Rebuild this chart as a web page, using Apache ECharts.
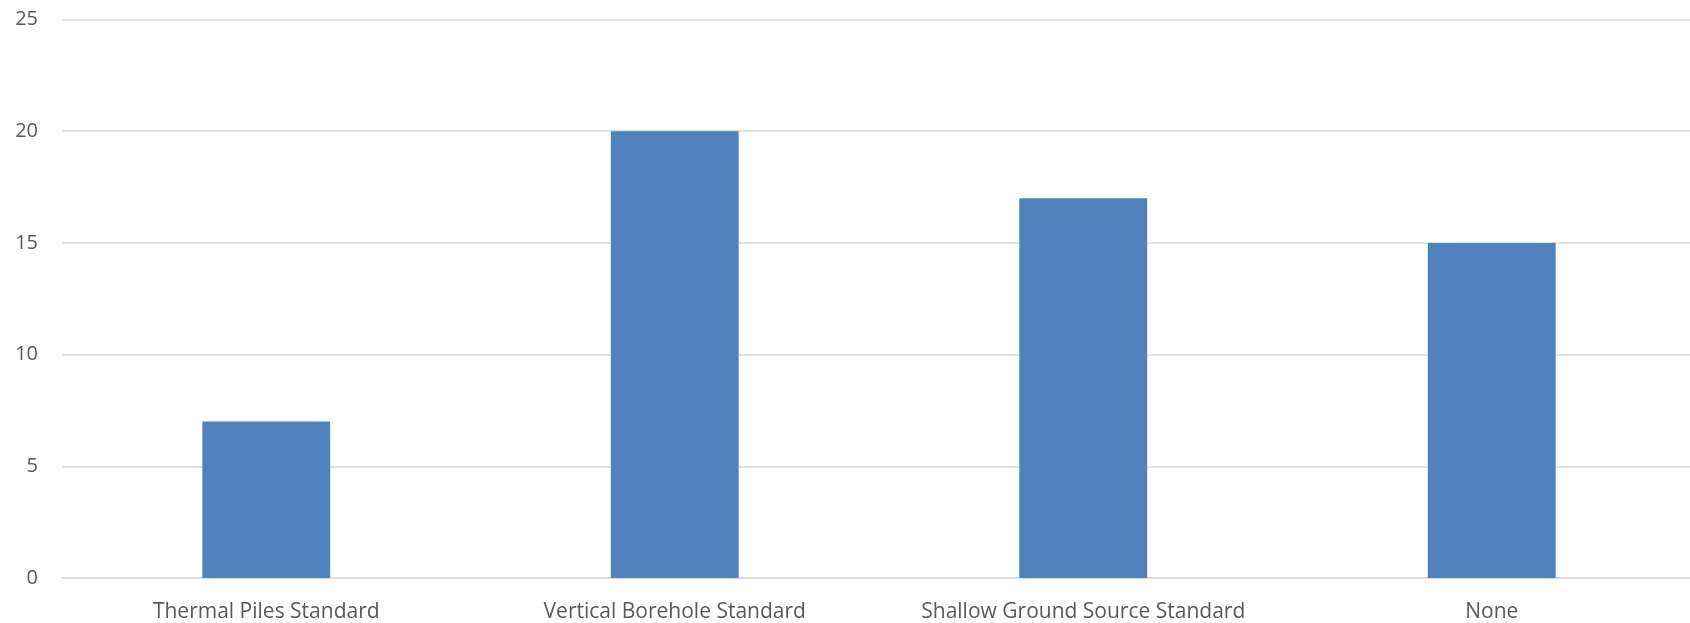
<!DOCTYPE html>
<html><head><meta charset="utf-8">
<script src="https://cdn.jsdelivr.net/npm/echarts@6/dist/echarts.min.js"></script>
<style>html,body{margin:0;padding:0;background:#fff;overflow:hidden;width:1690px;height:623px}#c{width:1700px;height:623px}</style>
</head><body><div id="c"></div>
<script>
const categories = ["Thermal Piles Standard", "Vertical Borehole Standard", "Shallow Ground Source Standard", "None"];
const values = [7, 20, 17, 15];
const yTicks = [0, 5, 10, 15, 20, 25];

const chart = echarts.init(document.getElementById('c'));
chart.setOption({
  animation: false,
  grid: {left: 62, right: 4, top: 19.5, bottom: 44, containLabel: false},
  xAxis: {
    type: 'category', data: categories,
    axisLine: {lineStyle: {color: '#d9d9d9', width: 1.5}},
    axisTick: {show: false},
    axisLabel: {color: '#595959', fontFamily: 'Open Sans', fontSize: 21, margin: 24, interval: 0}
  },
  yAxis: {
    type: 'value', min: yTicks[0], max: yTicks[yTicks.length-1], interval: 5,
    axisLine: {show: false}, axisTick: {show: false},
    splitLine: {lineStyle: {color: '#d9d9d9', width: 1.5}},
    axisLabel: {color: '#595959', fontFamily: 'Open Sans', fontSize: 20, margin: 24}
  },
  series: [{
    type: 'bar', data: values, barWidth: '31.3%',
    itemStyle: {color: '#4F81BD'}
  }]
});
</script></body></html>
